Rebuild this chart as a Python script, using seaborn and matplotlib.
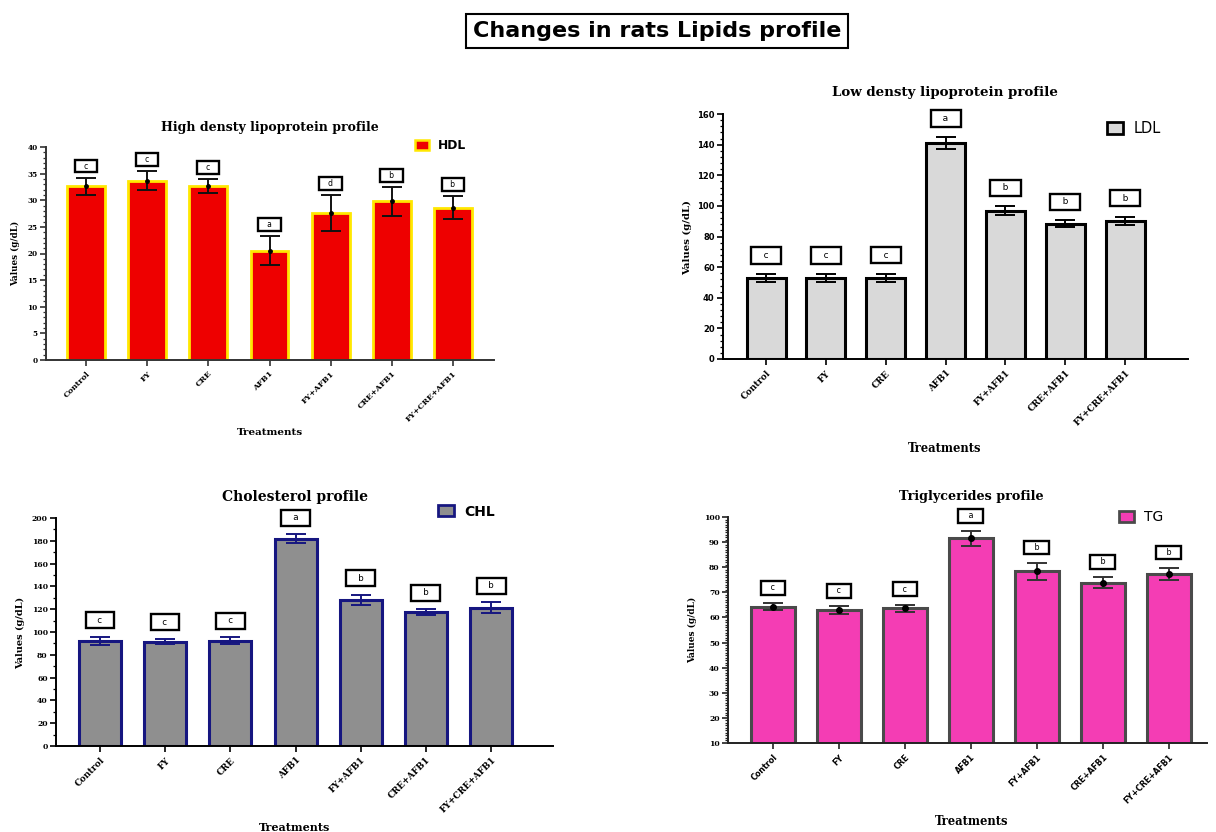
import numpy as np
import pandas as pd
import matplotlib
matplotlib.use("Agg")
import matplotlib.pyplot as plt
import seaborn as sns
from matplotlib.patches import Patch
from matplotlib.ticker import MultipleLocator

# ---- data -------------------------------------------------------------
treatments = ["Control", "FY", "CRE", "AFB1", "FY+AFB1", "CRE+AFB1", "FY+CRE+AFB1"]

hdl_mean = [32.6, 33.7, 32.6, 20.5, 27.6, 29.8, 28.6]
hdl_sd = [1.6, 1.7, 1.3, 2.7, 3.4, 2.7, 2.2]
hdl_letters = ["c", "c", "c", "a", "d", "b", "b"]

ldl_mean = [52.8, 52.8, 52.8, 141.0, 96.8, 88.2, 90.2]
ldl_sd = [2.5, 2.5, 2.7, 3.8, 2.8, 2.3, 2.6]
ldl_letters = ["c", "c", "c", "a", "b", "b", "b"]

chl_mean = [92.0, 91.5, 92.3, 181.8, 128.2, 117.3, 121.4]
chl_sd = [3.5, 2.4, 3.0, 4.0, 4.4, 2.6, 4.5]
chl_letters = ["c", "c", "c", "a", "b", "b", "b"]

tg_mean = [64.3, 63.0, 63.7, 91.5, 78.3, 73.8, 77.3]
tg_sd = [1.4, 1.6, 1.4, 2.9, 3.5, 2.2, 2.5]
tg_letters = ["c", "c", "c", "a", "b", "b", "b"]

# ---- style ------------------------------------------------------------
sns.set_style("ticks")
plt.rcParams["font.family"] = ["DejaVu Serif"]
plt.rcParams["axes.edgecolor"] = "black"
plt.rcParams["text.color"] = "black"
plt.rcParams["axes.labelcolor"] = "black"
plt.rcParams["xtick.color"] = "black"
plt.rcParams["ytick.color"] = "black"

W, H = 1216, 832
fig = plt.figure(figsize=(W / 100, H / 100), dpi=100)
PX = 72 / 100  # points per pixel


def px_rect(left, top, right, bottom):
    return [left / W, 1 - bottom / H, (right - left) / W, (bottom - top) / H]


def panel(rect, means, sds, letters, series, *, fill, edge, lw, width, err_color,
          ylim, major, minor, xlim, title, title_x, title_size, legend_xy,
          legend_size, legend_weight, handle_px, tick_family, ytick_size,
          xtick_family, xtick_size, ylabel_size, xlabel_size, ylabel_xy,
          xlabel_xy, letter_size, letter_offset, letter_pad, dot_size,
          spine_color):
    ax = fig.add_axes(px_rect(*rect))
    df = pd.DataFrame({"Treatment": treatments, "Value": means})
    sns.barplot(data=df, x="Treatment", y="Value", color=fill, saturation=1,
                edgecolor=edge, linewidth=lw, width=width, errorbar=None, ax=ax,
                zorder=2)
    x = np.arange(len(treatments))
    ax.errorbar(x, means, yerr=sds, fmt="o" if dot_size else "none",
                markersize=dot_size, color="black" if dot_size else err_color,
                ecolor=err_color, elinewidth=1.4, capsize=7.5, capthick=1.4,
                zorder=5)
    tops = np.asarray(means) + np.asarray(sds)
    for xi, top, lab in zip(x, tops, letters):
        ax.annotate(f"   {lab}   ", xy=(xi, top), xytext=(0, letter_offset),
                    textcoords="offset points", ha="center", va="center",
                    fontsize=letter_size, family="DejaVu Sans",
                    bbox=dict(boxstyle=f"square,pad={letter_pad}", fc="white",
                              ec="black", lw=1.7),
                    annotation_clip=False, zorder=6)

    ax.set_xlim(*xlim)
    ax.set_ylim(*ylim)
    ax.yaxis.set_major_locator(MultipleLocator(major))
    ax.yaxis.set_minor_locator(MultipleLocator(minor))
    sns.despine(ax=ax)
    for s in ("left", "bottom"):
        ax.spines[s].set_linewidth(1.4)
        ax.spines[s].set_color(spine_color)
    ax.tick_params(axis="y", which="major", length=4, width=1.2,
                   labelsize=ytick_size, pad=2, color=spine_color,
                   labelcolor="black")
    ax.tick_params(axis="y", which="minor", length=2.2, width=0.9,
                   color=spine_color)
    ax.tick_params(axis="x", which="major", length=4, width=1.2, pad=3,
                   color=spine_color, labelcolor="black")
    for t in ax.get_yticklabels():
        t.set_fontweight("bold")
        t.set_family(tick_family)
    ax.set_xticks(x)
    ax.set_xticklabels(treatments, rotation=45, ha="right",
                       rotation_mode="anchor", fontsize=xtick_size,
                       fontweight="bold", family=xtick_family)

    ax.set_xlabel("Treatments", fontsize=xlabel_size, fontweight="bold")
    ax.set_ylabel("Values (g/dL)", fontsize=ylabel_size, fontweight="bold")
    ax.xaxis.set_label_coords(*xlabel_xy)
    ax.yaxis.set_label_coords(*ylabel_xy)
    ax.set_title(title, fontsize=title_size, fontweight="bold", y=1.075,
                 pad=0, x=title_x, color="black")

    hp = legend_size / PX  # legend font size in pixels
    ax.legend(handles=[Patch(facecolor=fill, edgecolor=edge, linewidth=lw * 0.9)],
              labels=[series], loc="center left", bbox_to_anchor=legend_xy,
              frameon=False, borderpad=0, borderaxespad=0,
              handlelength=handle_px[0] / hp, handleheight=handle_px[1] / hp,
              handletextpad=0.7, labelcolor="black",
              prop=dict(family="DejaVu Sans", size=legend_size,
                        weight=legend_weight))
    return ax


# High density lipoprotein
panel((46, 147, 494, 360), hdl_mean, hdl_sd, hdl_letters, "HDL",
      fill="#ee0000", edge="#ffe800", lw=2.0, width=0.62, err_color="#111111",
      ylim=(0, 40), major=5, minor=1, xlim=(-0.654, 6.67),
      title="High densty lipoprotein profile", title_x=0.5, title_size=9.0,
      legend_xy=(0.824, 1.007), legend_size=8.8, legend_weight="bold",
      handle_px=(14, 10), tick_family="DejaVu Serif", ytick_size=5.2,
      xtick_family="DejaVu Serif", xtick_size=5.8, ylabel_size=6.3,
      xlabel_size=7.5, ylabel_xy=(-0.058, 0.5), xlabel_xy=(0.5, -0.32),
      letter_size=5.5, letter_offset=8.5, letter_pad=0.25, dot_size=2.5,
      spine_color="#333333")

# Low density lipoprotein
panel((723, 114, 1188, 359), ldl_mean, ldl_sd, ldl_letters, "LDL",
      fill="#d9d9d9", edge="black", lw=2.2, width=0.65, err_color="black",
      ylim=(0, 160), major=20, minor=4, xlim=(-0.72, 7.05),
      title="Low densty lipoprotein profile", title_x=0.477, title_size=9.6,
      legend_xy=(0.826, 0.941), legend_size=10.5, legend_weight="normal",
      handle_px=(16, 12), tick_family="DejaVu Sans", ytick_size=6.0,
      xtick_family="DejaVu Serif", xtick_size=6.3, ylabel_size=7.3,
      xlabel_size=8.3, ylabel_xy=(-0.066, 0.496), xlabel_xy=(0.477, -0.34),
      letter_size=6.5, letter_offset=13.5, letter_pad=0.4, dot_size=0,
      spine_color="black")

# Cholesterol
panel((56, 518, 553, 746), chl_mean, chl_sd, chl_letters, "CHL",
      fill="#8f8f8f", edge="#161680", lw=2.2, width=0.645, err_color="#161680",
      ylim=(0, 200), major=20, minor=10, xlim=(-0.675, 6.95),
      title="Cholesterol profile", title_x=0.481, title_size=10.0,
      legend_xy=(0.769, 1.028), legend_size=10.0, legend_weight="bold",
      handle_px=(16, 12), tick_family="DejaVu Serif", ytick_size=5.5,
      xtick_family="DejaVu Serif", xtick_size=6.3, ylabel_size=7.0,
      xlabel_size=8.0, ylabel_xy=(-0.062, 0.496), xlabel_xy=(0.481, -0.335),
      letter_size=6.3, letter_offset=12, letter_pad=0.4, dot_size=0,
      spine_color="black")

# Triglycerides
panel((728, 517, 1207, 743), tg_mean, tg_sd, tg_letters, "TG",
      fill="#f43db4", edge="#4a4a4a", lw=2.2, width=0.66, err_color="#333333",
      ylim=(10, 100), major=10, minor=1, xlim=(-0.68, 6.58),
      title="Triglycerides profile", title_x=0.509, title_size=9.2,
      legend_xy=(0.816, 0.998), legend_size=10.0, legend_weight="normal",
      handle_px=(15, 12), tick_family="DejaVu Serif", ytick_size=5.5,
      xtick_family="DejaVu Sans", xtick_size=5.8, ylabel_size=6.5,
      xlabel_size=8.3, ylabel_xy=(-0.065, 0.5), xlabel_xy=(0.509, -0.32),
      letter_size=5.8, letter_offset=11, letter_pad=0.3, dot_size=4,
      spine_color="#222222")

fig.text(657 / W, 1 - 31 / H, "Changes in rats Lipids profile", ha="center",
         va="center", fontsize=16, fontweight="bold", family="DejaVu Sans",
         color="black",
         bbox=dict(boxstyle="square,pad=0.3", fc="white", ec="black", lw=1.5))

fig.savefig("out.png", dpi=100, facecolor="white")
